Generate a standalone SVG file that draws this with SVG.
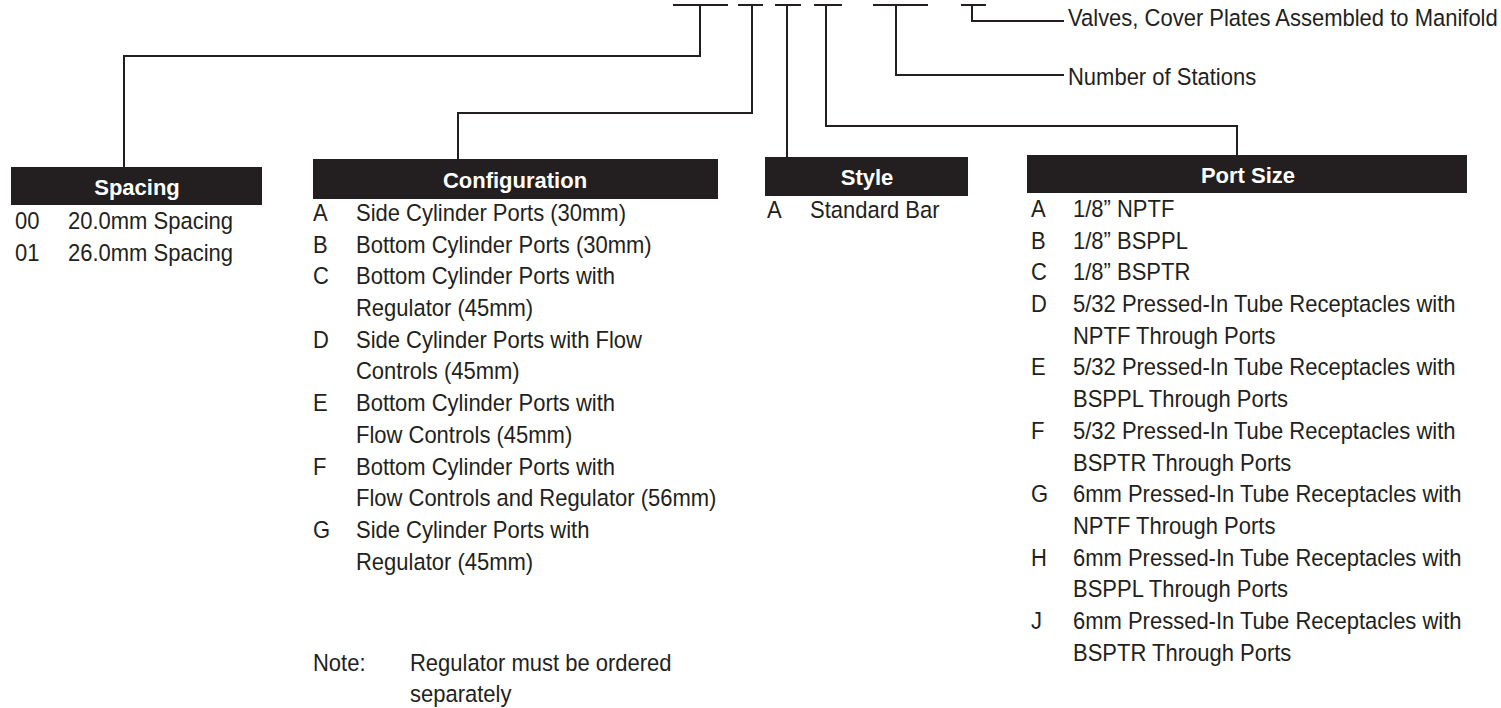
<svg xmlns="http://www.w3.org/2000/svg" width="1501" height="708" viewBox="0 0 1501 708">
<style>
.t{font-family:"Liberation Sans",Arial,sans-serif;font-size:23.5px;fill:#231f20;transform-box:fill-box;transform-origin:0 0;transform:scaleX(0.936)}
.h{font-family:"Liberation Sans",Arial,sans-serif;font-size:22px;font-weight:bold;fill:#fff;text-anchor:middle}
.bar{fill:#231f20}
.c{fill:none;stroke:#231f20;stroke-width:2}
</style>
<rect width="1501" height="708" fill="#fff"/>
<g id="connectors" class="c">
<path d="M673 5H728M700 5V56H124V167"/>
<path d="M738 5H763M752 5V113H458V159"/>
<path d="M775 5H801M787 5V157"/>
<path d="M814 5H842M826 5V126H1237V155"/>
<path d="M873 5H928M896 5V75H1064"/>
<path d="M961 5H986M972 5V21H1064"/>
</g>
<g id="valves"><text class="t" x="1068" y="26">Valves, Cover Plates Assembled to Manifold</text></g>
<g id="stations"><text class="t" x="1068" y="85">Number of Stations</text></g>
<g id="spacing">
<rect class="bar" x="11" y="167" width="251" height="38"/>
<text class="h" x="137" y="195">Spacing</text>
<text class="t" x="15" y="229">00</text><text class="t" x="68" y="229">20.0mm Spacing</text>
<text class="t" x="15" y="261">01</text><text class="t" x="68" y="261">26.0mm Spacing</text>
</g>
<g id="configuration">
<rect class="bar" x="313" y="159" width="405" height="40"/>
<text class="h" x="515" y="188">Configuration</text>
<text class="t" x="313" y="221">A</text><text class="t" x="356" y="221">Side Cylinder Ports (30mm)</text>
<text class="t" x="313" y="252.7">B</text><text class="t" x="356" y="252.7">Bottom Cylinder Ports (30mm)</text>
<text class="t" x="313" y="284.4">C</text><text class="t" x="356" y="284.4">Bottom Cylinder Ports with</text>
<text class="t" x="356" y="316">Regulator (45mm)</text>
<text class="t" x="313" y="347.8">D</text><text class="t" x="356" y="347.8">Side Cylinder Ports with Flow</text>
<text class="t" x="356" y="379.5">Controls (45mm)</text>
<text class="t" x="313" y="411">E</text><text class="t" x="356" y="411">Bottom Cylinder Ports with</text>
<text class="t" x="356" y="443">Flow Controls (45mm)</text>
<text class="t" x="313" y="474.6">F</text><text class="t" x="356" y="474.6">Bottom Cylinder Ports with</text>
<text class="t" x="356" y="506.3">Flow Controls and Regulator (56mm)</text>
<text class="t" x="313" y="538">G</text><text class="t" x="356" y="538">Side Cylinder Ports with</text>
<text class="t" x="356" y="569.7">Regulator (45mm)</text>
<text class="t" x="313" y="671">Note:</text><text class="t" x="410" y="671">Regulator must be ordered</text>
<text class="t" x="410" y="702">separately</text>
</g>
<g id="style">
<rect class="bar" x="765" y="157" width="203" height="39"/>
<text class="h" x="867" y="185">Style</text>
<text class="t" x="767" y="218">A</text><text class="t" x="810" y="218">Standard Bar</text>
</g>
<g id="portsize">
<rect class="bar" x="1027" y="155" width="440" height="38"/>
<text class="h" x="1248" y="183">Port Size</text>
<text class="t" x="1031" y="217">A</text><text class="t" x="1073" y="217">1/8” NPTF</text>
<text class="t" x="1031" y="248.7">B</text><text class="t" x="1073" y="248.7">1/8” BSPPL</text>
<text class="t" x="1031" y="280.4">C</text><text class="t" x="1073" y="280.4">1/8” BSPTR</text>
<text class="t" x="1031" y="312">D</text><text class="t" x="1073" y="312">5/32 Pressed-In Tube Receptacles with</text>
<text class="t" x="1073" y="343.8">NPTF Through Ports</text>
<text class="t" x="1031" y="375.5">E</text><text class="t" x="1073" y="375.5">5/32 Pressed-In Tube Receptacles with</text>
<text class="t" x="1073" y="407.2">BSPPL Through Ports</text>
<text class="t" x="1031" y="439">F</text><text class="t" x="1073" y="439">5/32 Pressed-In Tube Receptacles with</text>
<text class="t" x="1073" y="470.6">BSPTR Through Ports</text>
<text class="t" x="1031" y="502.3">G</text><text class="t" x="1073" y="502.3">6mm Pressed-In Tube Receptacles with</text>
<text class="t" x="1073" y="534">NPTF Through Ports</text>
<text class="t" x="1031" y="565.7">H</text><text class="t" x="1073" y="565.7">6mm Pressed-In Tube Receptacles with</text>
<text class="t" x="1073" y="597.4">BSPPL Through Ports</text>
<text class="t" x="1031" y="629">J</text><text class="t" x="1073" y="629">6mm Pressed-In Tube Receptacles with</text>
<text class="t" x="1073" y="660.7">BSPTR Through Ports</text>
</g>
</svg>
